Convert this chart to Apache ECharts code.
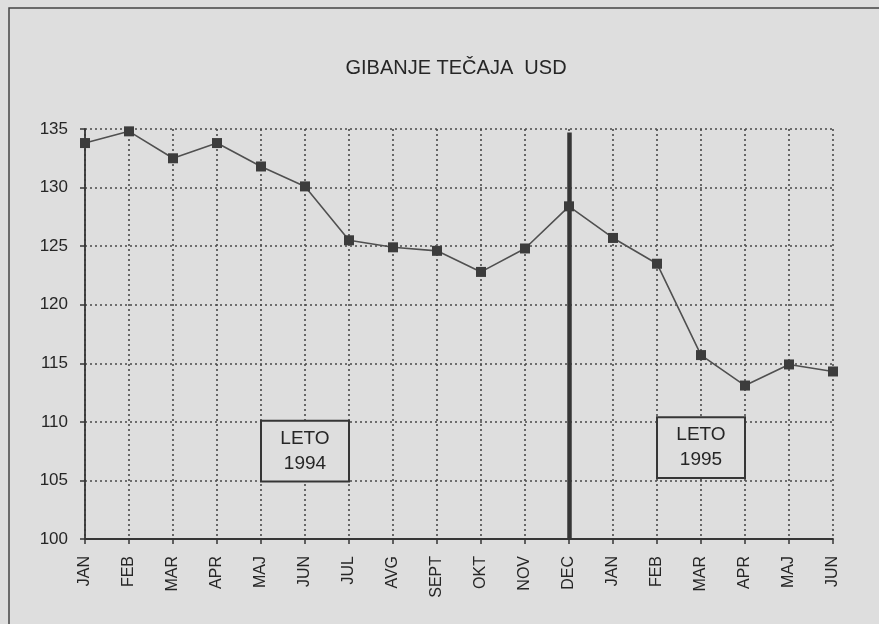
<!DOCTYPE html>
<html>
<head>
<meta charset="utf-8">
<script src="https://cdn.jsdelivr.net/npm/echarts@6/dist/echarts.min.js"></script>
<style>
html,body{margin:0;padding:0;background:#dedede;}
#chart{width:879px;height:624px;}
</style>
</head>
<body>
<div id="chart"></div>
<script>
// ---- data ----
var titleText = 'GIBANJE TEČAJA  USD';
var months1994 = ['JAN','FEB','MAR','APR','MAJ','JUN','JUL','AVG','SEPT','OKT','NOV','DEC'];
var months1995 = ['JAN','FEB','MAR','APR','MAJ','JUN'];
var rates1994 = [133.8, 134.8, 132.5, 133.8, 131.8, 130.1, 125.5, 124.9, 124.6, 122.8, 124.8, 128.4];
var rates1995 = [125.7, 123.5, 115.7, 113.1, 114.9, 114.3];
var yTicks = [100, 105, 110, 115, 120, 125, 130, 135];
var boxLabels = ['LETO\n1994', 'LETO\n1995'];
// annotation anchors (category index, value)
var box1994 = [[4, 110.1], [6, 104.9]];
var box1995 = [[13, 110.4], [15, 105.2]];
var dividerIndex = 11;
var dividerRange = [100, 134.7];

var categories = months1994.concat(months1995);
var rates = rates1994.concat(rates1995);

var font = 'Liberation Sans, Arial, sans-serif';
var dark = '#363636';
var textColor = '#262626';

var chart = echarts.init(document.getElementById('chart'), null, {renderer: 'canvas'});
var gridStyle = {color: '#4a4a4a', width: 1.6, type: [2, 3]};

var option = {
  backgroundColor: '#dedede',
  animation: false,
  graphic: [
    {type: 'rect', shape: {x: 9, y: 8, width: 900, height: 700},
     style: {fill: 'none', stroke: '#444', lineWidth: 1.5}, z: 0},
    {type: 'text', x: 456, y: 68,
     style: {text: titleText, fill: textColor, font: '20px ' + font,
             textAlign: 'center', textVerticalAlign: 'middle'}}
  ],
  grid: {left: 85, right: 46, top: 129, bottom: 85},
  xAxis: {
    type: 'category',
    data: categories,
    boundaryGap: false,
    axisLine: {lineStyle: {color: dark, width: 1.8}},
    axisTick: {show: true, length: 5, inside: false, lineStyle: {color: dark, width: 1.5}},
    axisLabel: {rotate: 90, margin: 17, color: textColor, fontSize: 16, fontFamily: font, interval: 0},
    splitLine: {show: true, lineStyle: gridStyle}
  },
  yAxis: {
    type: 'value',
    min: yTicks[0], max: yTicks[yTicks.length - 1], interval: 5,
    axisLine: {show: true, lineStyle: {color: dark, width: 1.8}},
    axisTick: {show: true, length: 5, lineStyle: {color: dark, width: 1.5}},
    axisLabel: {margin: 17, color: textColor, fontSize: 17, fontFamily: font},
    splitLine: {show: true, lineStyle: gridStyle}
  },
  series: [{
    type: 'line',
    data: rates,
    symbol: 'rect',
    symbolSize: 10,
    itemStyle: {color: '#3c3c3c'},
    lineStyle: {color: '#505050', width: 1.6},
    z: 5,
    markLine: {
      silent: true,
      symbol: ['none', 'none'],
      label: {show: false},
      lineStyle: {color: dark, width: 4.5, type: 'solid'},
      data: [[{coord: [dividerIndex, dividerRange[0]]}, {coord: [dividerIndex, dividerRange[1]]}]],
      z: 4
    },
    markArea: {
      silent: true,
      itemStyle: {color: '#dedede', borderColor: dark, borderWidth: 2},
      label: {show: true, position: 'inside', color: textColor, fontSize: 19,
              fontFamily: font, lineHeight: 25, formatter: '{b}'},
      data: [
        [{name: boxLabels[0], coord: box1994[0]}, {coord: box1994[1]}],
        [{name: boxLabels[1], coord: box1995[0]}, {coord: box1995[1]}]
      ]
    }
  }]
};
chart.setOption(option);
</script>
</body>
</html>
